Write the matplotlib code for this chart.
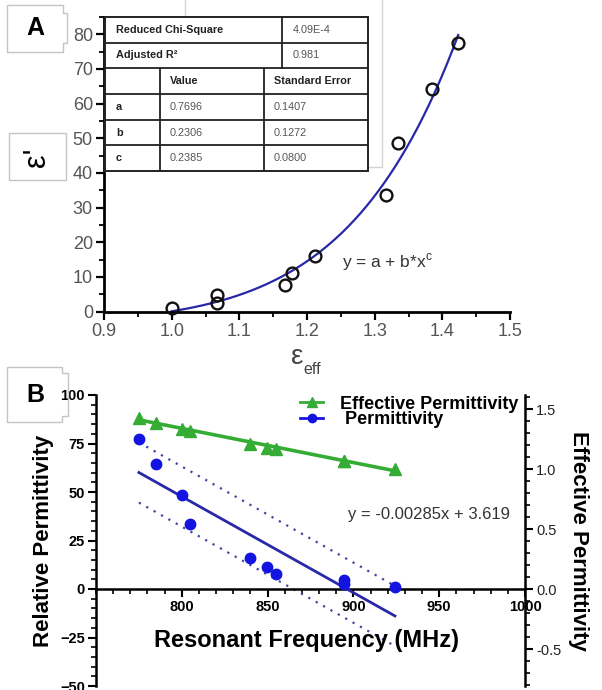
import numpy as np
import matplotlib
matplotlib.use('Agg')
import matplotlib.pyplot as plt
from matplotlib.patches import Rectangle, Polygon
from matplotlib.lines import Line2D
from matplotlib.ticker import MultipleLocator, FixedLocator

plt.rcParams['font.family'] = ['Liberation Sans', 'DejaVu Sans']
plt.rcParams['mathtext.fontset'] = 'custom'
plt.rcParams['mathtext.rm'] = 'Liberation Sans'

# measured samples (same samples in both panels)
freq = [775, 785, 800, 805, 840, 849.5, 855, 894.7, 894.7, 924.2]          # MHz
eps_eff = [1.4235, 1.385, 1.335, 1.317, 1.212, 1.178, 1.168, 1.067, 1.067, 1.000]
eps_r = [77.5, 64.2, 48.6, 33.5, 16.1, 11.1, 7.7, 4.7, 2.4, 1.1]

# linear fit shown for effective permittivity
eff_slope = -0.00285
eff_intercept = 3.619
band_halfwidth = 15.5   # dotted band around the permittivity fit

# fit table of panel A
stat_rows = [("Reduced Chi-Square", "4.09E-4"), ("Adjusted R²", "0.981")]
header = ["", "Value", "Standard Error"]
param_names = ["a", "b", "c"]
param_values = ["0.7696", "0.2306", "0.2385"]
param_errors = ["0.1407", "0.1272", "0.0800"]

W, H = 602, 690
fig = plt.figure(figsize=(W / 100, H / 100), dpi=100)


def box(l, t, r, b):
    return [l / W, 1 - b / H, (r - l) / W, (b - t) / H]


GRAY = '#555555'
GREEN = '#35ad35'
BLUE_PT = '#1414e0'
BLUE_LN = '#2828a8'

# ---------------- panel A ----------------
axA = fig.add_axes(box(104, 17, 510, 311.5))
axA.set_xlim(0.9, 1.5)
axA.set_ylim(0, 85)
for s in ['top', 'right']:
    axA.spines[s].set_visible(False)
for s in ['left', 'bottom']:
    axA.spines[s].set_linewidth(2)
axA.xaxis.set_major_locator(MultipleLocator(0.1))
axA.xaxis.set_minor_locator(MultipleLocator(0.05))
axA.yaxis.set_major_locator(FixedLocator([0, 10, 20, 30, 40, 50, 60, 70, 80]))
axA.yaxis.set_minor_locator(MultipleLocator(5))
axA.tick_params(which='major', length=6, width=1.6, labelsize=13, labelcolor=GRAY, pad=2)
axA.tick_params(which='minor', length=3.5, width=1.3)
axA.xaxis.set_major_formatter(plt.FuncFormatter(lambda v, p: f"{v:.1f}"))

x = np.array(eps_eff)
y = np.array(eps_r)
best = None
for c in np.linspace(1, 25, 2401):
    M = np.column_stack([np.ones_like(x), x ** c])
    coef = np.linalg.lstsq(M, y, rcond=None)[0]
    sse = np.sum((M @ coef - y) ** 2)
    if best is None or sse < best[0]:
        best = (sse, coef[0], coef[1], c)
_, fa, fb, fc = best
xc = np.linspace(x.min(), x.max(), 200)
axA.plot(xc, fa + fb * xc ** fc, color=BLUE_LN, lw=1.6, zorder=2)
axA.plot(x, y, 'o', mfc='none', mec='#111111', ms=8.5, mew=1.7, clip_on=False, zorder=3)

# ---------------- panel B ----------------
axB = fig.add_axes(box(96, 395, 525, 686))
axB.set_xlim(750, 1000)
axB.set_ylim(-50, 100)
ax2 = axB.twinx()
ax2.set_ylim(-0.808, 1.617)

axB.spines['top'].set_visible(False)
axB.spines['right'].set_visible(False)
axB.spines['bottom'].set_position(('data', 0))
for s in ['left', 'bottom']:
    axB.spines[s].set_linewidth(1.8)
for s in ['left', 'top', 'bottom']:
    ax2.spines[s].set_visible(False)
ax2.spines['right'].set_linewidth(1.8)

axB.xaxis.set_major_locator(FixedLocator([800, 850, 900, 950, 1000]))
axB.xaxis.set_minor_locator(MultipleLocator(10))
axB.yaxis.set_major_locator(MultipleLocator(25))
axB.yaxis.set_minor_locator(MultipleLocator(5))
ax2.yaxis.set_major_locator(FixedLocator([-0.5, 0.0, 0.5, 1.0, 1.5]))
ax2.yaxis.set_minor_locator(MultipleLocator(0.1))
ax2.yaxis.set_major_formatter(plt.FuncFormatter(lambda v, p: f"{v:.1f}"))
for a in (axB, ax2):
    a.tick_params(which='major', length=6, width=1.5, labelsize=10.5, pad=2)
    a.tick_params(which='minor', length=3.5, width=1.2)
for lab in axB.get_xticklabels() + axB.get_yticklabels():
    lab.set_fontweight('bold')
for lab in ax2.get_yticklabels():
    lab.set_color('#222222')

f = np.array(freq)
k, b0 = np.polyfit(f, y, 1)
fl = np.linspace(f.min(), f.max(), 50)
axB.plot(fl, k * fl + b0, color=BLUE_LN, lw=2, zorder=3)
axB.plot(fl, k * fl + b0 + band_halfwidth, color='#4646a0', lw=1.6, ls=(0, (1, 2.8)), zorder=2)
axB.plot(fl, k * fl + b0 - band_halfwidth, color='#4646a0', lw=1.6, ls=(0, (1, 2.8)), zorder=2)
axB.plot(f, y, 'o', color=BLUE_PT, ms=7.5, zorder=4, clip_on=False)

ax2.plot(fl, eff_slope * fl + eff_intercept, color=GREEN, lw=2.6, zorder=3)
ax2.plot(f, eps_eff, '^', color=GREEN, ms=8, zorder=4)

axB.set_ylabel("Relative Permittivity", fontsize=16, fontweight='bold', labelpad=4)
ax2.set_ylabel("Effective Permittivity", fontsize=16, fontweight='bold', rotation=270, labelpad=20)

handles = [Line2D([], [], color=GREEN, marker='^', lw=2, ms=7),
           Line2D([], [], color=BLUE_PT, marker='o', lw=2, ms=6)]
leg = axB.legend(handles, ["Effective Permittivity", " Permittivity"], loc='center left',
                 bbox_to_anchor=((300 - 96) / 429, (686 - 412) / 291), frameon=False,
                 prop={'size': 13, 'weight': 'bold'}, handlelength=1.3, handletextpad=0.9,
                 labelspacing=-0.06, borderpad=0, borderaxespad=0)

# ---------------- overlay: labels, boxes, table ----------------
ov = fig.add_axes([0, 0, 1, 1], zorder=10)
ov.set_xlim(0, W)
ov.set_ylim(H, 0)
ov.axis('off')
ov.patch.set_alpha(0)

ov.text(307, 640, "Resonant Frequency (MHz)", fontsize=17, fontweight='bold', ha='center', va='center')
ov.text(429, 515, "y = -0.00285x + 3.619", fontsize=12, color='#333333', ha='center', va='center')
ov.text(342, 262, r"y = a + b*x$^{\mathrm{c}}$", fontsize=12.5, color='#333333', ha='left', va='center')
ov.text(297, 357, "ε", fontsize=20, color='#444444', ha='center', va='center')
ov.text(303, 369, "eff", fontsize=11.5, color='#444444', ha='left', va='center')

lbl_gray = '#c4c4c4'
ov.add_patch(Polygon([(7, 5), (63, 5), (63, 13), (67, 13), (67, 43), (63, 43), (63, 52), (7, 52)],
                     closed=True, fc='none', ec=lbl_gray, lw=1))
ov.text(35, 28, "A", fontsize=18, fontweight='bold', ha='center', va='center')
ov.add_patch(Polygon([(7, 367), (62, 367), (62, 373), (68, 373), (68, 416), (62, 416), (62, 422), (7, 422)],
                     closed=True, fc='none', ec=lbl_gray, lw=1))
ov.text(35, 395, "B", fontsize=18, fontweight='bold', ha='center', va='center')
ov.add_patch(Rectangle((9, 133), 57, 47, fc='white', ec=lbl_gray, lw=1))
ov.text(37, 157, "ε'", fontsize=22, rotation=90, ha='center', va='center')

ov.add_patch(Rectangle((185, -5), 197, 172, fc='none', ec='#d4d4d4', lw=1, zorder=1))

tl, tr = 105, 368
ys = [17, 43, 68, 94, 120, 145, 171]
ov.add_patch(Rectangle((tl, ys[0]), tr - tl, ys[-1] - ys[0], fc='white', ec='#222222', lw=1.4, zorder=2))
for yy in ys[1:-1]:
    ov.plot([tl, tr], [yy, yy], color='#222222', lw=1.3, zorder=3)
ov.plot([282, 282], [ys[0], ys[2]], color='#222222', lw=1.3, zorder=3)
for xx in (160, 264):
    ov.plot([xx, xx], [ys[2], ys[-1]], color='#222222', lw=1.3, zorder=3)

tfs = 7.8
for i, (name, val) in enumerate(stat_rows):
    yc = (ys[i] + ys[i + 1]) / 2
    ov.text(tl + 11, yc, name, fontsize=tfs, fontweight='bold', color='#222222', va='center', zorder=4)
    ov.text(282 + 11, yc, val, fontsize=tfs, color=GRAY, va='center', zorder=4)
cols = [tl + 11, 160 + 10, 264 + 10]
yc = (ys[2] + ys[3]) / 2
for cx, h in zip(cols, header):
    ov.text(cx, yc, h, fontsize=tfs, fontweight='bold', color='#222222', va='center', zorder=4)
for i, (n, v, e) in enumerate(zip(param_names, param_values, param_errors)):
    yc = (ys[3 + i] + ys[4 + i]) / 2
    ov.text(cols[0], yc, n, fontsize=tfs, fontweight='bold', color='#222222', va='center', zorder=4)
    ov.text(cols[1], yc, v, fontsize=tfs, color=GRAY, va='center', zorder=4)
    ov.text(cols[2], yc, e, fontsize=tfs, color=GRAY, va='center', zorder=4)

fig.savefig("out.png", dpi=100)
